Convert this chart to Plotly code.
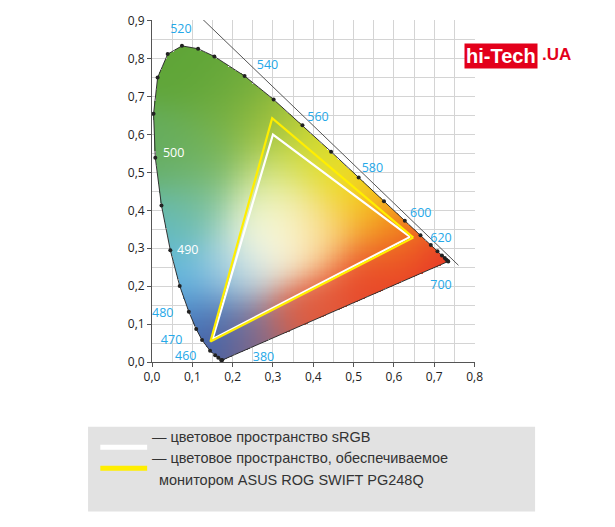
import numpy as np
import plotly.graph_objects as go

# spectral locus (CIE 1931), wavelength nm -> x, y
wl = [380, 420, 440, 450, 460, 470, 475, 480, 485, 490, 495, 500, 505, 510, 515, 520,
      525, 530, 540, 550, 560, 570, 580, 590, 600, 610, 620, 630, 640, 650, 660, 680, 700]
loc_x = [0.1741, 0.1714, 0.1644, 0.1566, 0.1440, 0.1241, 0.1096, 0.0913, 0.0687, 0.0454,
         0.0235, 0.0082, 0.0039, 0.0139, 0.0389, 0.0743, 0.1142, 0.1547, 0.2296, 0.3016,
         0.3731, 0.4441, 0.5125, 0.5752, 0.6270, 0.6658, 0.6915, 0.7079, 0.7190, 0.7260,
         0.7300, 0.7334, 0.7347]
loc_y = [0.0050, 0.0051, 0.0109, 0.0177, 0.0297, 0.0578, 0.0868, 0.1327, 0.2007, 0.2950,
         0.4127, 0.5384, 0.6548, 0.7502, 0.8120, 0.8338, 0.8262, 0.8059, 0.7543, 0.6923,
         0.6245, 0.5547, 0.4866, 0.4242, 0.3725, 0.3340, 0.3083, 0.2920, 0.2809, 0.2740,
         0.2700, 0.2666, 0.2653]

# labelled wavelengths: label, x, y (left edge of text)
lab_text = ["520", "540", "560", "580", "600", "620", "700", "500", "490", "480", "470", "460", "380"]
lab_x = [0.045, 0.26, 0.385, 0.52, 0.64, 0.69, 0.69, 0.027, 0.062, 0.0, 0.022, 0.057, 0.25]
lab_y = [0.875, 0.78, 0.645, 0.51, 0.39, 0.325, 0.2, 0.55, 0.293, 0.126, 0.057, 0.013, 0.01]
lab_white = ["500", "490"]

srgb_x = [0.64, 0.30, 0.15, 0.64]
srgb_y = [0.33, 0.60, 0.06, 0.33]
mon_x = [0.648, 0.298, 0.145, 0.648]
mon_y = [0.328, 0.643, 0.054, 0.328]

xt = [0, 0.1, 0.2, 0.3, 0.4, 0.5, 0.6, 0.7, 0.8]
yt = [0, 0.1, 0.2, 0.3, 0.4, 0.5, 0.6, 0.7, 0.8, 0.9]

# background colour anchors (x, y, rgb) used to shade the horseshoe
anc = [
    (0.08, 0.78, (95, 165, 55)), (0.2, 0.7, (108, 170, 60)), (0.03, 0.55, (100, 172, 95)),
    (0.15, 0.55, (115, 178, 85)), (0.12, 0.42, (120, 190, 150)),
    (0.3, 0.62, (165, 195, 60)), (0.42, 0.55, (215, 220, 40)), (0.5, 0.48, (245, 225, 20)),
    (0.58, 0.4, (245, 170, 25)), (0.65, 0.33, (240, 110, 35)), (0.72, 0.27, (228, 40, 40)),
    (0.55, 0.22, (232, 70, 40)), (0.4, 0.12, (225, 90, 60)), (0.25, 0.04, (150, 110, 130)),
    (0.15, 0.03, (55, 85, 160)), (0.11, 0.1, (70, 120, 190)), (0.07, 0.22, (95, 185, 230)),
    (0.04, 0.35, (95, 185, 190)), (0.31, 0.34, (255, 255, 240)), (0.29, 0.37, (250, 252, 225)),
    (0.2, 0.25, (185, 215, 228)), (0.41, 0.36, (250, 210, 120)), (0.3, 0.47, (215, 232, 130)),
]

step = 0.003
gx = np.arange(0, 0.8, step) + step / 2
gy = np.arange(0, 0.9, step) + step / 2
X, Y = np.meshgrid(gx, gy)
px, py = np.array(loc_x), np.array(loc_y)
inside = np.zeros(X.shape, bool)
n = len(px)
for i in range(n):
    j = (i - 1) % n
    cond = ((py[i] > Y) != (py[j] > Y)) & (X < (px[j] - px[i]) * (Y - py[i]) / (py[j] - py[i] + 1e-12) + px[i])
    inside ^= cond
wsum = np.zeros(X.shape)
csum = np.zeros(X.shape + (3,))
for ax_, ay_, c in anc:
    w = np.exp(-((X - ax_) ** 2 + (Y - ay_) ** 2) / (2 * 0.075 ** 2)) + 1e-12
    wsum += w
    csum += w[..., None] * np.array(c)
img = np.zeros(X.shape + (4,))
img[..., :3] = csum / wsum[..., None]
img[..., 3] = inside.astype(float)

fig = go.Figure()
fig.add_trace(go.Image(z=img, colormodel="rgba", x0=gx[0], dx=step, y0=gy[0], dy=step,
                       hoverinfo="skip"))
fig.add_trace(go.Scatter(x=loc_x + [loc_x[0]], y=loc_y + [loc_y[0]], mode="lines",
                         line=dict(color="#333", width=1), hoverinfo="skip"))
fig.add_trace(go.Scatter(x=loc_x, y=loc_y, mode="markers",
                         marker=dict(color="#222", size=4)))
fig.add_trace(go.Scatter(x=[0.11, 0.76], y=[0.92, 0.255], mode="lines",
                         line=dict(color="#555", width=1)))
fig.add_trace(go.Scatter(x=srgb_x, y=srgb_y, mode="lines", line=dict(color="white", width=2.2)))
fig.add_trace(go.Scatter(x=mon_x, y=mon_y, mode="lines", line=dict(color="#ffee00", width=2.2)))
fig.add_trace(go.Scatter(x=lab_x, y=lab_y, mode="text", text=lab_text, textposition="middle right",
                         textfont=dict(size=12.5, family="Open Sans",
                                       color=["white" if t in lab_white else "#25a8e8" for t in lab_text])))

axis = dict(showgrid=True, gridcolor="#d4d4d4", gridwidth=1, zeroline=False, showline=True,
            linecolor="#555", ticks="outside", ticklen=4, tickcolor="#555",
            tickfont=dict(size=12, family="Open Sans", color="#222"), ticklabeloverflow="allow",
            minor=dict(dtick=0.05, showgrid=True, gridcolor="#d4d4d4"))
fig.update_xaxes(axis, range=[0, 0.801], tickvals=xt,
                 ticktext=[f"{v:.1f}".replace(".", ",") for v in xt], constrain="domain")
fig.update_yaxes(axis, range=[0, 0.902], tickvals=yt, scaleanchor=False,
                 ticktext=[f"{v:.1f}".replace(".", ",") for v in yt])

shapes = [
    dict(type="rect", xref="paper", yref="paper", x0=-0.198, x1=1.186, y0=-0.437, y1=-0.189,
         fillcolor="#e2e2e2", line=dict(width=0), layer="below"),
    dict(type="line", xref="paper", yref="paper", x0=-0.16, x1=-0.015, y0=-0.249, y1=-0.249,
         line=dict(color="white", width=5)),
    dict(type="line", xref="paper", yref="paper", x0=-0.16, x1=-0.015, y0=-0.311, y1=-0.311,
         line=dict(color="#ffee00", width=5)),
]
tf = dict(size=14.5, family="Liberation Sans", color="#333")
annotations = [
    dict(xref="paper", yref="paper", x=-0.005, y=-0.249, text="— цветовое пространство sRGB",
         showarrow=False, xanchor="left", font=tf),
    dict(xref="paper", yref="paper", x=-0.005, y=-0.311,
         text="— цветовое пространство, обеспечиваемое", showarrow=False, xanchor="left", font=tf),
    dict(xref="paper", yref="paper", x=0.015, y=-0.374, text="монитором ASUS ROG SWIFT PG248Q",
         showarrow=False, xanchor="left", font=tf),
    dict(xref="paper", yref="paper", x=1.195, y=0.932, text="<b>hi-Tech</b>", showarrow=False,
         xanchor="right", bgcolor="#e3001b", borderpad=1,
         font=dict(size=20, family="Liberation Sans", color="white")),
    dict(xref="paper", yref="paper", x=1.2, y=0.932, text="<b>.UA</b>", showarrow=False,
         xanchor="left", font=dict(size=17, family="Liberation Sans", color="#e3001b")),
]

# page body has an 8px margin, so margins are shifted to keep the plot in place
fig.update_layout(width=615, height=527, margin=dict(l=144, r=148, t=4, b=173),
                  paper_bgcolor="white", plot_bgcolor="white", showlegend=False,
                  shapes=shapes, annotations=annotations)
fig.write_html("out.html")
